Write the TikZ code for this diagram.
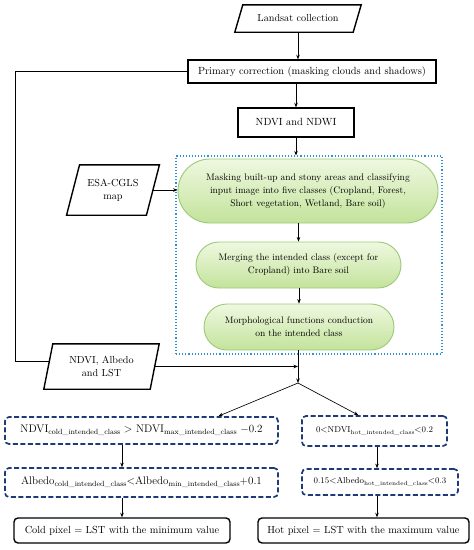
\documentclass[tikz,border=0pt]{standalone}
\usetikzlibrary{arrows.meta,calc,shapes.misc}
\definecolor{gborder}{HTML}{9CC977}
\definecolor{gtop}{HTML}{EFF8E0}
\definecolor{gbot}{HTML}{C3E39B}
\definecolor{navy}{HTML}{1F3A78}
\definecolor{dotblue}{HTML}{2F8FD8}
\newcommand{\sbs}[2]{\raisebox{-0.45ex}{\fontsize{#1}{#1}\selectfont #2}}
\tikzset{
  arr/.style={-{Stealth[length=4.5pt,width=3.5pt]}, line width=0.65pt},
  plain/.style={line width=0.65pt},
  sqbox/.style={draw, line width=1.4pt, inner sep=0pt, font=\fontsize{10.4}{12}\selectfont},
  pbox/.style={inner sep=0pt, align=center, font=\fontsize{10.2}{13}\selectfont},
  greenbox/.style={rounded rectangle, draw=gborder, line width=0.9pt, top color=gtop, bottom color=gbot, inner sep=0pt, align=center, font=\fontsize{9.5}{13}\selectfont},
  dbox/.style={draw=navy, line width=1.7pt, dash pattern=on 5pt off 2.5pt, rounded corners=4pt, inner sep=0pt},
  rbox/.style={draw, line width=1.4pt, rounded corners=4pt, inner sep=0pt, font=\fontsize{10.3}{12}\selectfont},
}
\begin{document}
\begin{tikzpicture}[x=1pt,y=-1pt]
\useasboundingbox (0,0) rectangle (474,550);
% parallelogram nodes (text holders)
\node[pbox, minimum width=118pt, minimum height=27pt] (land) at (298,18.5) {Landsat collection};
\node[pbox, minimum width=79.5pt, minimum height=50pt] (esa) at (113,190) {ESA-CGLS\\map};
\node[pbox, minimum width=106pt, minimum height=45pt] (nal) at (101.5,366.5) {NDVI, Albedo\\and LST};
\foreach \n/\s in {land/4, esa/6.5, nal/4.5}{
  \draw[line width=1.4pt, line join=miter] ($(\n.north west)+(\s,0)$) -- ($(\n.north east)+(\s,0)$) -- ($(\n.south east)-(\s,0)$) -- ($(\n.south west)-(\s,0)$) -- cycle;
}
% rectangles
\node[sqbox, minimum width=248pt, minimum height=23pt] (prim) at (312,71.5) {Primary correction (masking clouds and shadows)};
\node[sqbox, minimum width=116pt, minimum height=29pt] (ndvi) at (296,122.5) {NDVI and NDWI};
% dotted group
\node[draw=dotblue, line width=1.1pt, dotted, minimum width=266pt, minimum height=198pt, inner sep=0pt] (grp) at (309,255) {};
% green boxes
\node[greenbox, minimum width=260pt, minimum height=64pt] (g1) at (308,191) {Masking built-up and stony areas and classifying\\input image into five classes (Cropland, Forest,\\Short vegetation, Wetland, Bare soil)};
\node[greenbox, minimum width=205pt, minimum height=46pt] (g2) at (298.5,265) {Merging the intended class (except for\\Cropland) into Bare soil};
\node[greenbox, minimum width=190pt, minimum height=46pt] (g3) at (299,327) {Morphological functions conduction\\on the intended class};
% condition boxes
\node[dbox, minimum width=273pt, minimum height=27pt] (c1) at (141.5,430.5) {\fontsize{11}{12}\selectfont NDVI\sbs{7.5}{cold\_intended\_class} $>$ NDVI\sbs{7.5}{max\_intended\_class} $-$0.2};
\node[dbox, minimum width=145pt, minimum height=30pt] (h1) at (374.5,431) {\fontsize{8.6}{10}\selectfont 0$<$NDVI\sbs{6}{hot\_intended\_class}$<$0.2};
\node[dbox, minimum width=273pt, minimum height=29pt] (c2) at (141.5,482.5) {\fontsize{11}{12}\selectfont Albedo\sbs{7.5}{cold\_intended\_class}$<$Albedo\sbs{7.5}{min\_intended\_class}+0.1};
\node[dbox, minimum width=156pt, minimum height=26pt] (h2) at (380,482) {\fontsize{8.6}{10}\selectfont 0.15$<$Albedo\sbs{6}{hot\_intended\_class}$<$0.3};
\node[rbox, minimum width=216pt, minimum height=25pt] (cp) at (122,530.5) {Cold pixel = LST with the minimum value};
\node[rbox, minimum width=211pt, minimum height=25pt] (hp) at (363.5,530.5) {Hot pixel = LST with the maximum value};
% helper coordinates
\coordinate (jn) at (298,383);
\coordinate (lc) at (15,361);
\coordinate (hx) at (377,0);
% connectors
\draw[arr] (land.south) -- (land.south |- prim.north);
\draw[arr] (prim.south -| ndvi) -- (ndvi.north);
\draw[arr] (ndvi.south) -- (ndvi.south |- grp.north);
\draw[arr] (esa.east) -- (esa.east -| g1.west);
\draw[arr] (g1.south -| g2) -- (g2.north);
\draw[arr] (g2.south -| g3) -- (g3.north);
\draw[arr] (g3.south -| jn) -- (jn);
\draw[arr] (nal.east) -- (nal.east -| jn);
\draw[plain] (prim.west) -| (lc) -- ($(lc -| nal.west)+(1,0)$);
\draw[arr] (jn) -- ($(c1.north west)!0.78!(c1.north east)$);
\draw[arr] (jn) -- ($(h1.north west)!0.39!(h1.north east)$);
\draw[arr] (c1.south -| cp) -- (c2.north -| cp);
\draw[arr] (c2.south -| cp) -- (cp.north);
\draw[arr] (h1.south -| hx) -- (h2.north -| hx);
\draw[arr] (h2.south -| hx) -- (hp.north -| hx);
\end{tikzpicture}
\end{document}
